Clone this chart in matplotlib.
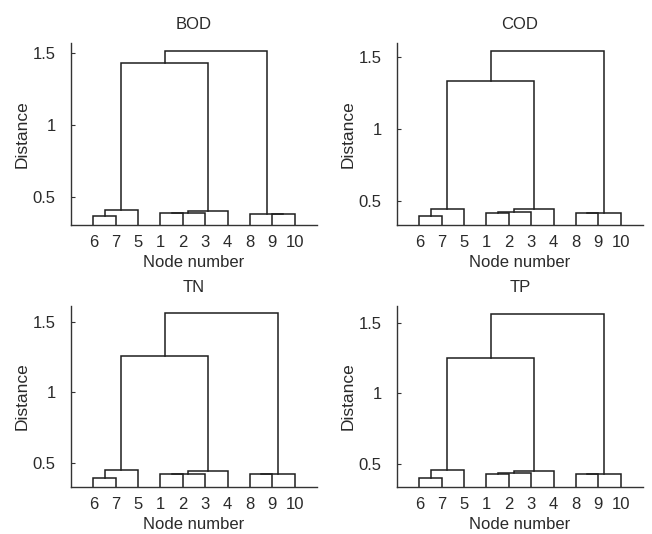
import numpy as np
import matplotlib.pyplot as plt

plt.rcParams['font.family'] = ['Liberation Sans', 'DejaVu Sans']

# Leaf order along the x axis (same in all four panels)
leaf_order = [6, 7, 5, 1, 2, 3, 4, 8, 9, 10]
n_leaves = len(leaf_order)

# Merges in linkage style: ids 1..10 are nodes, 11.. are clusters in merge order
bod_pairs = [(6, 7), (11, 5), (1, 2), (13, 3), (14, 4), (9, 10), (8, 16), (12, 15), (18, 17)]
bod_heights = [0.365, 0.405, 0.384, 0.387, 0.402, 0.377, 0.378, 1.434, 1.516]

cod_pairs = [(6, 7), (11, 5), (1, 2), (13, 3), (14, 4), (8, 9), (16, 10), (12, 15), (18, 17)]
cod_heights = [0.393, 0.440, 0.412, 0.421, 0.440, 0.412, 0.413, 1.335, 1.544]

tn_pairs = [(6, 7), (11, 5), (1, 2), (13, 3), (14, 4), (8, 9), (16, 10), (12, 15), (18, 17)]
tn_heights = [0.396, 0.448, 0.420, 0.421, 0.445, 0.420, 0.421, 1.257, 1.564]

tp_pairs = [(6, 7), (11, 5), (1, 2), (13, 3), (14, 4), (8, 9), (16, 10), (12, 15), (18, 17)]
tp_heights = [0.400, 0.452, 0.424, 0.431, 0.451, 0.424, 0.425, 1.253, 1.566]

titles = ['BOD', 'COD', 'TN', 'TP']
all_pairs = [bod_pairs, cod_pairs, tn_pairs, tp_pairs]
all_heights = [bod_heights, cod_heights, tn_heights, tp_heights]
ylims = [(0.303, 1.57), (0.33, 1.598), (0.33, 1.613), (0.334, 1.62)]

line_col = '#1e1e1e'
text_col = '#2a2a2a'


def draw_dendro(ax, pairs, heights):
    xpos = {leaf: i + 1 for i, leaf in enumerate(leaf_order)}
    ypos = {leaf: 0.0 for leaf in leaf_order}
    for k, ((a, b), h) in enumerate(zip(pairs, heights)):
        ax.plot([xpos[a], xpos[a], xpos[b], xpos[b]],
                [ypos[a], h, h, ypos[b]], color=line_col, lw=1.1,
                solid_joinstyle='miter')
        node = n_leaves + k + 1
        xpos[node] = (xpos[a] + xpos[b]) / 2
        ypos[node] = h


fig = plt.figure(figsize=(6.52, 5.34), dpi=100)
W, H = 652, 534
# axes boxes in pixels: left, top, right, bottom
boxes = [(71, 43, 317, 225), (397, 43, 643, 225),
         (71, 306, 317, 487), (397, 306, 643, 487)]

for i in range(4):
    l, t, r, b = boxes[i]
    ax = fig.add_axes([l / W, 1 - b / H, (r - l) / W, (b - t) / H])
    draw_dendro(ax, all_pairs[i], all_heights[i])
    ax.set_xlim(0, n_leaves + 1)
    ax.set_ylim(*ylims[i])
    ax.set_xticks(range(1, n_leaves + 1))
    ax.set_xticklabels([str(v) for v in leaf_order])
    ax.set_yticks([0.5, 1, 1.5])
    ax.set_yticklabels(['0.5', '1', '1.5'])
    ax.tick_params(axis='x', length=0, pad=7, labelsize=12, colors=text_col)
    ax.tick_params(axis='y', direction='in', length=3, pad=11, labelsize=12,
                   color='#333333', labelcolor=text_col)
    for s in ['top', 'right']:
        ax.spines[s].set_visible(False)
    for s in ['left', 'bottom']:
        ax.spines[s].set_color('#333333')
        ax.spines[s].set_linewidth(1.0)
    ax.set_title(titles[i], fontsize=12, pad=10, color=text_col)
    ax.set_xlabel('Node number', fontsize=12, labelpad=4, color=text_col)
    ax.set_ylabel('Distance', fontsize=12.5, labelpad=2, color=text_col)

fig.savefig('out.png', dpi=100)
